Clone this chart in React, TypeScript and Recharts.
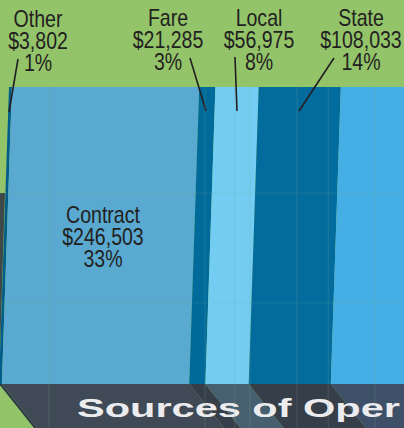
import React from "react";
import { BarChart, Bar, XAxis, YAxis, ReferenceLine } from "recharts";

const sources = ["Other", "Contract", "Fare", "Local", "State", "Federal"];
const amounts = [3802, 246503, 21285, 56975, 108033, 310000];
const amountLabels = ["$3,802", "$246,503", "$21,285", "$56,975", "$108,033", ""];
const shareLabels = ["1%", "33%", "3%", "8%", "14%", ""];
const faces = ["#015E8A", "#59A9D0", "#006A9A", "#73CDF3", "#046C9D", "#45AEE4"];
const floors = ["#2E3A46", "#3F4A56", "#353E49", "#47606F", "#353E49", "#3D5068"];
const seamValues = [52600, 258000, 297000, 317000, 379000, 420000, 481500];

const row: Record<string, string | number> = { name: "funds" };
sources.forEach((s, i) => (row[s] = amounts[i]));
const data = [row];

const total = amounts.reduce((a, b) => a + b, 0);
const TOP = 87;
const BOTTOM = 384;
const H = 428;
const LEAN = 10;
const SPREAD = 35;
const NARROW = 0.85;
const FONT = "'Liberation Sans', sans-serif";

const callouts: Record<string, { x: number; y: number; line?: number[] }> = {
  Other: { x: 38, y: 27, line: [18, 59, 9, 112] },
  Contract: { x: 103, y: 223 },
  Fare: { x: 168, y: 26, line: [190, 58, 206, 111] },
  Local: { x: 259, y: 26, line: [235, 57, 237, 111] },
  State: { x: 361, y: 26, line: [334, 58, 299, 111] },
};

const Overlay = () => (
  <g>
    <line x1={0} x2={404} y1={193} y2={193} stroke="#7FA89A" strokeOpacity={0.18} />
    <line x1={0} x2={404} y1={303} y2={303} stroke="#7FA89A" strokeOpacity={0.18} />
    {sources.map((s, i) => {
      const c = callouts[s];
      if (!c) return null;
      return (
        <g key={s}>
          {c.line && (
            <line x1={c.line[0]} y1={c.line[1]} x2={c.line[2]} y2={c.line[3]} stroke="#231F20" strokeWidth={1.6} />
          )}
          <g transform={`translate(${c.x} 0) scale(${NARROW} 1)`}>
            <text textAnchor="middle" fontFamily={FONT} fontSize={23} fill="#231F20">
              <tspan x={0} y={c.y}>{s}</tspan>
              <tspan x={0} y={c.y + 22}>{amountLabels[i]}</tspan>
              <tspan x={0} y={c.y + 44}>{shareLabels[i]}</tspan>
            </text>
          </g>
        </g>
      );
    })}
    <text
      x={77}
      y={417}
      fontFamily={FONT}
      fontWeight={700}
      fontSize={26}
      fill="#ECECEE"
      textLength={323}
      lengthAdjust="spacingAndGlyphs"
    >
      Sources of Oper
    </text>
  </g>
);

const face = (i: number) => (p: any) => {
  const { x, width, y, height } = p;
  const b = y + height;
  return (
    <g>
      {i === 0 && <polygon points={`0,193 ${x - LEAN + 6},193 ${x - LEAN},${b} 0,${b}`} fill="#3F4A48" />}
      <polygon
        points={`${x - LEAN},${b} ${x + width - LEAN},${b} ${x + width - LEAN + SPREAD},${H} ${x - LEAN + SPREAD},${H}`}
        fill={floors[i]}
      />
      <polygon
        points={`${x},${y} ${x + width},${y} ${x + width - LEAN},${b} ${x - LEAN},${b}`}
        fill={faces[i]}
      />
      {i === sources.length - 1 && <Overlay />}
    </g>
  );
};

const Seam = (p: any) => (
  <line x1={p.x1} x2={p.x2} y1={TOP} y2={H} stroke="#7FA89A" strokeOpacity={0.25} strokeWidth={1} />
);

export default function App() {
  return (
    <div style={{ position: "fixed", left: 0, top: 0, width: 404, height: H, overflow: "hidden", background: "#93C46A" }}>
      <BarChart
        width={9 + total * 0.00076}
        height={H}
        data={data}
        layout="vertical"
        barCategoryGap={0}
        margin={{ top: TOP, right: 0, bottom: H - BOTTOM, left: 9 }}
      >
        <XAxis type="number" hide domain={[0, total]} />
        <YAxis type="category" dataKey="name" hide />
        {seamValues.map((v) => (
          <ReferenceLine key={v} x={v} shape={Seam} />
        ))}
        {sources.map((s, i) => (
          <Bar key={s} dataKey={s} stackId="a" isAnimationActive={false} shape={face(i)} />
        ))}
      </BarChart>
    </div>
  );
}
